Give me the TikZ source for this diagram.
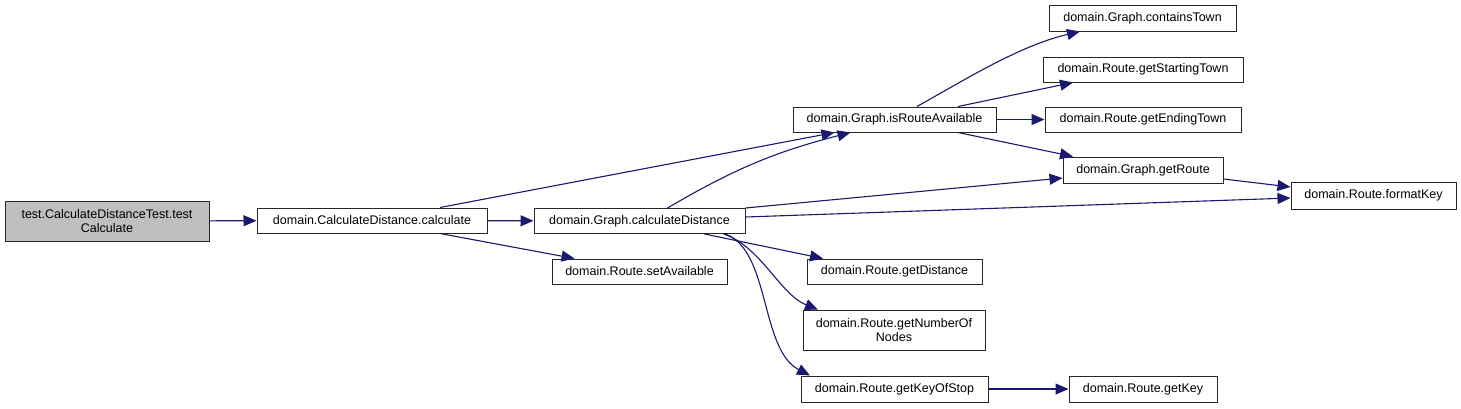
\documentclass[tikz,border=0pt]{standalone}
\usepackage{fontspec}
\setmainfont{Liberation Sans}
\usepackage{tikz}
\usetikzlibrary{arrows.meta,positioning}
\definecolor{callblue}{RGB}{25,25,112}
\tikzset{
  block/.style={draw=black!85, line width=1pt, fill=white, align=center, inner sep=2pt,
    minimum height=25pt, font=\fontsize{12.5}{14}\selectfont},
  rootblock/.style={block, fill=black!25},
  arr/.style={-{Triangle[length=13pt,width=11pt]}, draw=callblue, line width=1.1pt}
}
\begin{document}
\begin{tikzpicture}[x=1pt, y=-1pt]
  \useasboundingbox (0,0) rectangle (1461,408);

  \node[rootblock, minimum width=204pt, minimum height=40pt] (test) at (107,221) {test.CalculateDistanceTest.test\\Calculate};
  \node[block, minimum width=230pt] (calc) at (372,220.5) {domain.CalculateDistance.calculate};
  \node[block, minimum width=211pt] (graphDist) at (639.5,221) {domain.Graph.calculateDistance};
  \node[block, minimum width=175pt] (setAvail) at (639.5,271.5) {domain.Route.setAvailable};
  \node[block, minimum width=203pt] (isAvail) at (894.5,119.5) {domain.Graph.isRouteAvailable};
  \node[block, minimum width=187pt, minimum height=26pt] (contains) at (1142.5,18) {domain.Graph.containsTown};
  \node[block, minimum width=200pt] (startTown) at (1143,69.5) {domain.Route.getStartingTown};
  \node[block, minimum width=196pt] (endTown) at (1143,119.5) {domain.Route.getEndingTown};
  \node[block, minimum width=160pt, minimum height=26pt] (getRoute) at (1143,170) {domain.Graph.getRoute};
  \node[block, minimum width=165pt, minimum height=27pt] (formatKey) at (1373.5,195.5) {domain.Route.formatKey};
  \node[block, minimum width=175pt] (getDist) at (894.5,271.5) {domain.Route.getDistance};
  \node[block, minimum width=182pt, minimum height=40pt] (numNodes) at (894,330) {domain.Route.getNumberOf\\Nodes};
  \node[block, minimum width=187pt, minimum height=26pt] (keyOfStop) at (894.5,389) {domain.Route.getKeyOfStop};
  \node[block, minimum width=148pt, minimum height=26pt] (getKey) at (1143,389) {domain.Route.getKey};

  \draw[arr] (test) -- (calc);
  \draw[arr] (calc) -- (graphDist);
  \draw[arr] ([xshift=68pt]calc.north) -- ([xshift=-60pt]isAvail.south);
  \draw[arr] ([xshift=68pt]calc.south) -- ([xshift=-65pt]setAvail.north);
  \draw[arr] ([xshift=28pt]graphDist.north) to[bend left=8] ([xshift=-44pt]isAvail.south);
  \draw[arr] (graphDist.north east) -- ([yshift=-8pt]getRoute.west);
  \draw[arr] ([yshift=4pt]graphDist.east) -- ([yshift=-2.5pt]formatKey.west);
  \draw[arr] ([xshift=65pt]graphDist.south) -- ([xshift=-71.5pt]getDist.north);
  \draw[arr] ([xshift=-22pt]graphDist.south east) .. controls +(37,12) and +(-38,-15) .. ([xshift=-76pt]numNodes.north);
  \draw[arr] ([xshift=-20pt]graphDist.south east) .. controls +(45,17) and +(-50,-26) .. ([xshift=-84.5pt]keyOfStop.north);
  \draw[arr] ([xshift=22.5pt]isAvail.north) .. controls +(50,-28) and +(-60,14) .. ([xshift=-62.5pt]contains.south);
  \draw[arr] ([xshift=63.5pt]isAvail.north) -- ([xshift=-70pt]startTown.south);
  \draw[arr] (isAvail) -- (endTown);
  \draw[arr] ([xshift=63.5pt]isAvail.south) -- ([xshift=-70pt]getRoute.north);
  \draw[arr] ([yshift=-9pt]getRoute.east) -- ([yshift=8.5pt]formatKey.west);
  \draw[arr] (keyOfStop) -- (getKey);
\end{tikzpicture}
\end{document}
